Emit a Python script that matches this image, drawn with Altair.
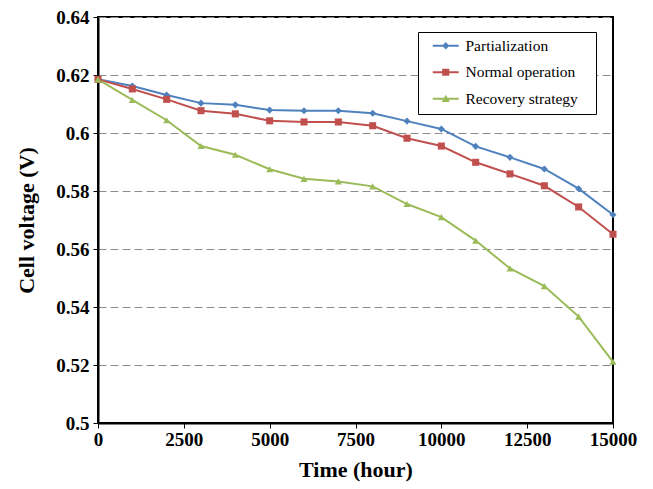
import altair as alt
import pandas as pd

hours = [0, 1000, 2000, 3000, 4000, 5000, 6000, 7000, 8000, 9000, 10000, 11000, 12000, 13000, 14000, 15000]
partialization = [0.6185, 0.6162, 0.6131, 0.6103, 0.6097, 0.6079, 0.6077, 0.6077, 0.6068, 0.6041, 0.6014, 0.5954, 0.5916, 0.5876, 0.5808, 0.5718]
normal_operation = [0.6185, 0.6152, 0.6116, 0.6077, 0.6066, 0.6042, 0.6038, 0.6038, 0.6025, 0.5982, 0.5955, 0.5899, 0.5859, 0.5818, 0.5745, 0.5651]
recovery_strategy = [0.6185, 0.6114, 0.6044, 0.5955, 0.5925, 0.5875, 0.5842, 0.5833, 0.5816, 0.5755, 0.5710, 0.5629, 0.5533, 0.5472, 0.5367, 0.5211]

series_names = ["Partialization", "Normal operation", "Recovery strategy"]
series_colors = ["#4F81BD", "#C0504D", "#9BBB59"]
marker_shapes = ["diamond", "square", "triangle-up"]
marker_sizes = [50, 50, 55]
legend_shapes = [
    "M-2,-0.15H2V0.15H-2Z M0,-0.56L0.56,0L0,0.56L-0.56,0Z",
    "M-2,-0.15H2V0.15H-2Z M-0.55,-0.55H0.55V0.55H-0.55Z",
    "M-2,-0.15H2V0.15H-2Z M0,-0.62L0.64,0.5L-0.64,0.5Z",
]
x_ticks = [0, 2500, 5000, 7500, 10000, 12500, 15000]
y_ticks = [0.5, 0.52, 0.54, 0.56, 0.58, 0.6, 0.62, 0.64]

rows = []
for name, vals in zip(series_names, [partialization, normal_operation, recovery_strategy]):
    for h, v in zip(hours, vals):
        rows.append({"Time": h, "Voltage": v, "Series": name})
df = pd.DataFrame(rows)

FONT = "Liberation Serif"

x_enc = alt.X(
    "Time:Q",
    scale=alt.Scale(domain=[0, 15000], nice=False),
    axis=alt.Axis(
        values=x_ticks, format="d", title="Time (hour)", grid=False,
        labelFont=FONT, labelFontSize=19, labelFontWeight="bold", labelColor="black",
        titleFont=FONT, titleFontSize=22, titleFontWeight="bold", titleColor="black",
        domainColor="black", domainWidth=2, tickColor="black", tickSize=5, tickWidth=1,
        labelPadding=2, titlePadding=10, labelFlush=False,
    ),
)
y_enc = alt.Y(
    "Voltage:Q",
    scale=alt.Scale(domain=[0.5, 0.64], nice=False, zero=False),
    axis=alt.Axis(
        values=y_ticks, format=".2~f", title="Cell voltage (V)", grid=True,
        gridColor="#8c8c8c", gridDash=[8, 4], gridWidth=1,
        labelFont=FONT, labelFontSize=19, labelFontWeight="bold", labelColor="black",
        titleFont=FONT, titleFontSize=22, titleFontWeight="bold", titleColor="black",
        domainColor="black", domainWidth=2, tickColor="black", tickSize=5, tickWidth=1,
        labelPadding=4, titlePadding=17, labelFlush=False,
    ),
)

def color_enc(legend=None):
    return alt.Color("Series:N", scale=alt.Scale(domain=series_names, range=series_colors),
                     legend=legend, sort=series_names)

lines = alt.Chart(df).mark_line(strokeWidth=2).encode(
    x=x_enc, y=y_enc, color=color_enc(), order=alt.Order("Time:Q")
)

points = alt.Chart(df).mark_point(filled=True, opacity=1).encode(
    x=x_enc, y=y_enc, color=color_enc(),
    shape=alt.Shape("Series:N", scale=alt.Scale(domain=series_names, range=marker_shapes), legend=None),
    size=alt.Size("Series:N", scale=alt.Scale(domain=series_names, range=marker_sizes), legend=None),
)

legend_props = dict(
    title=None, orient="none", legendX=320, legendY=15,
    fillColor="white", strokeColor="black", padding=6,
    symbolSize=169, symbolOffset=14, labelOffset=12, rowPadding=9.5,
    symbolOpacity=1, symbolStrokeWidth=0,
    labelFont=FONT, labelFontSize=15.5, labelColor="black",
    labelExpr="datum.label + '\u2800'",
)

legend_layer = alt.Chart(df).mark_point(filled=True, opacity=0).encode(
    x=x_enc, y=y_enc,
    color=color_enc(alt.Legend(**legend_props)),
    shape=alt.Shape("Series:N", scale=alt.Scale(domain=series_names, range=legend_shapes),
                    legend=alt.Legend(**legend_props)),
)

chart = alt.layer(lines, points, legend_layer).resolve_scale(
    color="independent", shape="independent"
).properties(
    width=515, height=406,
    autosize=alt.AutoSizeParams(type="none"),
    padding={"left": 98, "top": 17, "right": 40, "bottom": 66},
    background="white",
).configure_view(
    stroke="black", strokeWidth=2
)

chart.save("out.html", embed_options={"renderer": "svg", "actions": False})
